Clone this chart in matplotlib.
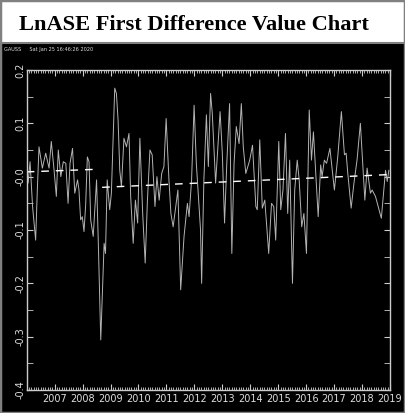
import matplotlib
matplotlib.use("Agg")
import matplotlib.pyplot as plt
import numpy as np
from matplotlib.patches import Rectangle
from matplotlib.ticker import MultipleLocator, FixedLocator

# first-difference series (decimal year, value)
years = [2006.00, 2006.05, 2006.12, 2006.21, 2006.32, 2006.38, 2006.44, 2006.56, 2006.68, 2006.80,
         2006.88, 2006.98, 2007.06, 2007.13, 2007.22, 2007.31, 2007.40, 2007.48, 2007.55, 2007.64,
         2007.72, 2007.82, 2007.87, 2007.93, 2007.99, 2008.05, 2008.11, 2008.17, 2008.23, 2008.29,
         2008.38, 2008.50, 2008.56, 2008.65, 2008.77, 2008.82, 2008.88, 2008.97, 2009.03, 2009.15,
         2009.21, 2009.27, 2009.33, 2009.39, 2009.48, 2009.57, 2009.66, 2009.72, 2009.81, 2009.89,
         2009.97, 2010.05, 2010.15, 2010.24, 2010.32, 2010.41, 2010.49, 2010.59, 2010.66, 2010.74,
         2010.83, 2010.91, 2010.99, 2011.09, 2011.16, 2011.24, 2011.41, 2011.51, 2011.63, 2011.75,
         2011.81, 2011.90, 2011.99, 2012.07, 2012.16, 2012.22, 2012.26, 2012.34, 2012.43, 2012.50,
         2012.58, 2012.64, 2012.76, 2012.92, 2013.00, 2013.08, 2013.16, 2013.26, 2013.34, 2013.42,
         2013.50, 2013.60, 2013.68, 2013.75, 2013.84, 2013.98, 2014.08, 2014.20, 2014.25, 2014.34,
         2014.43, 2014.52, 2014.66, 2014.76, 2014.84, 2014.91, 2015.02, 2015.09, 2015.17, 2015.26,
         2015.34, 2015.41, 2015.51, 2015.59, 2015.68, 2015.75, 2015.84, 2015.92, 2016.01, 2016.11,
         2016.19, 2016.26, 2016.43, 2016.52, 2016.57, 2016.65, 2016.73, 2016.85, 2017.01, 2017.13,
         2017.26, 2017.37, 2017.43, 2017.49, 2017.61, 2017.71, 2017.82, 2017.94, 2018.10, 2018.18,
         2018.30, 2018.36, 2018.48, 2018.69, 2018.84, 2018.90, 2018.96]
values = [0.022, -0.012, 0.028, -0.056, -0.119, -0.025, 0.056, 0.016, 0.044, 0.016,
          0.066, 0.012, -0.037, 0.050, 0.000, 0.028, 0.025, -0.050, 0.025, 0.053,
          -0.031, -0.006, -0.025, -0.081, -0.075, -0.103, -0.053, 0.037, 0.028, -0.081,
          -0.112, -0.006, -0.119, -0.306, -0.125, -0.144, -0.006, -0.062, -0.031, 0.166,
          0.156, 0.106, 0.012, -0.019, 0.072, 0.056, 0.081, -0.037, -0.125, -0.044,
          -0.087, 0.072, -0.069, -0.162, -0.044, 0.050, 0.041, -0.056, 0.000, -0.044,
          0.006, 0.019, 0.109, -0.006, -0.069, -0.094, -0.025, -0.212, -0.112, -0.050,
          -0.075, -0.006, 0.134, 0.025, -0.050, -0.100, -0.200, -0.006, 0.116, 0.019,
          0.156, 0.119, -0.012, 0.122, 0.044, -0.087, 0.025, 0.137, -0.144, 0.025,
          0.094, 0.062, 0.137, 0.056, 0.006, 0.031, 0.059, -0.056, -0.062, 0.069,
          -0.059, -0.044, -0.144, -0.050, -0.056, -0.119, 0.066, -0.062, -0.025, 0.081,
          -0.069, 0.031, -0.200, -0.025, 0.031, -0.006, -0.094, -0.069, -0.144, 0.125,
          0.031, 0.084, -0.075, 0.022, 0.000, 0.031, 0.025, 0.053, -0.025, 0.037,
          0.122, 0.041, 0.044, 0.006, -0.059, -0.012, 0.031, 0.100, -0.044, 0.016,
          -0.031, -0.025, -0.037, -0.078, 0.012, -0.009, 0.012]

# fitted trend with a break in 2008
trend_pre_years = [2006.0, 2008.6]
trend_pre_values = [0.009, 0.014]
trend_post_years = [2008.7, 2019.0]
trend_post_values = [-0.020, 0.004]

year_ticks = list(range(2007, 2020))
y_ticks = [0.2, 0.1, 0.0, -0.1, -0.2, -0.3, -0.4]
y_labels = ['0.2', '0.1', '-0.0', '-0.1', '-0.2', '-0.3', '-0.4']

W, H = 405, 413
fig = plt.figure(figsize=(W / 100, H / 100), dpi=100, facecolor='black')

# white title band and frame
fig.add_artist(Rectangle((0, 1 - 43 / H), 1, 43 / H, transform=fig.transFigure,
                         facecolor='white', edgecolor='#808080', linewidth=1.5))
fig.add_artist(Rectangle((0, 0), 1, 1, transform=fig.transFigure,
                         facecolor='none', edgecolor='#808080', linewidth=2.5))
fig.text(194 / W, 1 - 25 / H, 'LnASE First Difference Value Chart', ha='center', va='center',
         fontsize=16.1, fontweight='bold', family='Liberation Serif', color='black')
fig.text(4 / W, 1 - 50 / H, 'GAUSS     Sat Jan 25 16:46:26 2020', ha='left', va='center',
         fontsize=3.6, color='#dddddd')

ax = fig.add_axes((26.7 / W, 1 - 390 / H, (390 - 26.7) / W, (390 - 70) / H))
ax.set_facecolor('black')

ax.plot(years, values, color='#b4b4b4', linewidth=0.7)
ax.plot(trend_pre_years, trend_pre_values, color='white', linewidth=1.0, dashes=(5.5, 5))
ax.plot(trend_post_years, trend_post_values, color='white', linewidth=1.0, dashes=(5.5, 5))

ax.set_xlim(2006, 2019)
ax.set_ylim(-0.4, 0.2)

ax.xaxis.set_major_locator(FixedLocator(year_ticks))
ax.xaxis.set_minor_locator(MultipleLocator(1 / 12))
ax.yaxis.set_major_locator(FixedLocator(y_ticks))
ax.yaxis.set_minor_locator(MultipleLocator(0.05))
ax.set_xticklabels([str(y) for y in year_ticks])
ax.set_yticklabels(y_labels, rotation=90, va='center')

ax.tick_params(which='both', direction='in', colors='#cccccc', top=True, right=True)
ax.tick_params(which='major', length=4, width=0.8, labelsize=7, labelcolor='#dddddd', pad=3)
ax.tick_params(which='minor', length=2, width=0.6)
ax.tick_params(axis='y', which='both', length=4)
ax.tick_params(axis='y', pad=1)
for s in ax.spines.values():
    s.set_color('#cccccc')
    s.set_linewidth(1.0)

fig.savefig('out.png', dpi=100, facecolor='black')
